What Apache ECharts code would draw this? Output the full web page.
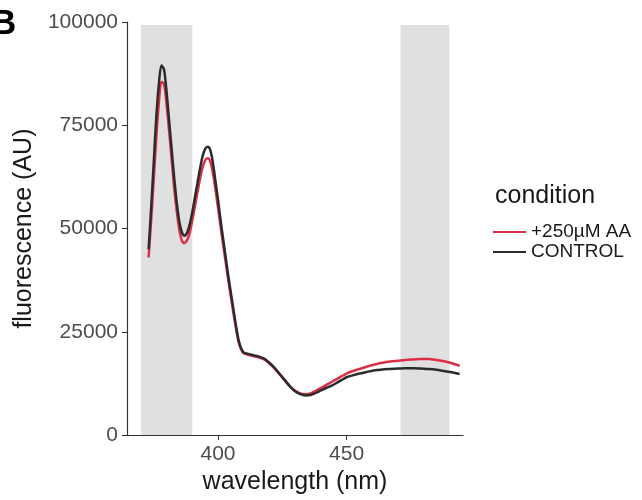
<!DOCTYPE html>
<html>
<head>
<meta charset="utf-8">
<script src="https://cdn.jsdelivr.net/npm/echarts@6/dist/echarts.min.js"></script>
<style>
  html, body { margin: 0; padding: 0; background: #fff; }
  #main { width: 642px; height: 500px; }
</style>
</head>
<body>
<div id="main"></div>
<script>
// wavelengths (nm) shared by both conditions
const wavelength = [
  373, 374, 375, 376, 377, 378, 379, 380, 381, 382,
  383, 384, 385, 386, 387, 388, 389, 390, 391, 392,
  393, 394, 395, 396, 397, 398, 399, 400, 401, 402,
  403, 404, 405, 406, 407, 408, 409, 410,
  412, 414, 416, 418, 420, 422, 424, 426, 428, 430,
  432, 434, 436, 438, 440, 442, 444, 446, 448, 450,
  452, 455, 458, 461, 464, 467, 470, 473, 476, 479, 482, 485, 488, 491, 494
];

// fluorescence (AU)
const aaValues = [
  43000, 52000, 62000, 72000, 80500, 85500, 85000, 80000, 73500, 66500,
  59500, 54000, 49500, 47000, 46500, 47200, 49000, 52000, 55300, 58700,
  62000, 64800, 66500, 67000, 66200, 63500, 59500, 55000, 50500, 46000,
  41800, 37500, 33500, 29500, 25800, 22500, 20700, 19800,
  19400, 19100, 18800, 18300, 17300, 16100, 14700, 13200, 11800, 10700,
  10100, 9900, 10100, 10700, 11400, 12100, 12800, 13500, 14200, 14900,
  15400, 16000, 16600, 17100, 17500, 17800, 18000, 18200, 18300, 18400, 18400, 18200, 17900, 17400, 16800
];

const controlValues = [
  45000, 55000, 66000, 77000, 85000, 89500, 88500, 83000, 76000, 69000,
  62000, 56000, 51500, 49000, 48300, 49000, 51000, 54000, 57500, 61000,
  64500, 67500, 69300, 69800, 69000, 66000, 61500, 57000, 52000, 47500,
  43000, 38500, 34500, 30500, 26500, 23000, 21000, 20000,
  19600, 19300, 19000, 18500, 17500, 16300, 14800, 13300, 11800, 10600,
  9900, 9600, 9700, 10200, 10800, 11400, 11900, 12600, 13300, 14000,
  14400, 14900, 15300, 15700, 15900, 16000, 16100, 16200, 16200, 16100, 16000, 15800, 15500, 15200, 14800
];

const conditions = ["+250\u00b5M AA", "CONTROL"];
const bands = [[370, 390], [471, 490]]; // shaded wavelength windows
const xTicks = [400, 450];

const font = "Liberation Sans";

function pairs(values) {
  return wavelength.map((w, i) => [w, values[i]]);
}

const options = {
  animation: false,
  backgroundColor: "#fff",
  textStyle: { fontFamily: font },
  grid: { left: 127, right: 179, top: 22, bottom: 63.5 },
  xAxis: {
    type: "value",
    min: 364.6,
    max: 495.3,
    name: "wavelength (nm)",
    nameLocation: "middle",
    nameGap: 33,
    nameTextStyle: { fontSize: 25, color: "#1a1a1a", fontFamily: font },
    axisLine: { lineStyle: { color: "#333", width: 1.2 } },
    axisTick: { customValues: xTicks, length: 5, lineStyle: { color: "#333" } },
    axisLabel: {
      customValues: xTicks,
      fontSize: 21,
      color: "#4d4d4d",
      margin: 9,
      fontFamily: font
    },
    splitLine: { show: false }
  },
  yAxis: {
    type: "value",
    min: 0,
    max: 100000,
    interval: 25000,
    name: "fluorescence (AU)",
    nameLocation: "middle",
    nameGap: 88,
    nameTextStyle: { fontSize: 25, color: "#1a1a1a", fontFamily: font },
    axisLine: { show: true, lineStyle: { color: "#333", width: 1.2 } },
    axisTick: { show: true, length: 5, lineStyle: { color: "#333" } },
    axisLabel: {
      fontSize: 21,
      color: "#4d4d4d",
      margin: 9,
      fontFamily: font,
      formatter: (v) => String(v)
    },
    splitLine: { show: false }
  },
  legend: {
    orient: "vertical",
    left: 493,
    top: 222,
    padding: 0,
    itemGap: 0,
    itemWidth: 33,
    itemHeight: 2,
    icon: "rect",
    data: conditions,
    textStyle: { fontSize: 19, color: "#1a1a1a", lineHeight: 20, fontFamily: font }
  },
  graphic: [
    {
      type: "text",
      left: -9,
      top: 7,
      style: { text: "B", font: "bold 35px " + font, fill: "#000" }
    },
    {
      type: "text",
      left: 495,
      top: 184,
      style: { text: "condition", font: "25px " + font, fill: "#1a1a1a" }
    }
  ],
  series: [
    {
      name: conditions[0],
      type: "line",
      data: pairs(aaValues),
      showSymbol: false,
      smooth: 0.3,
      lineStyle: { color: "#dc2f46", width: 2.5 },
      itemStyle: { color: "#dc2f46" },
      markArea: {
        silent: true,
        itemStyle: { color: "#e0e0e0" },
        data: bands.map((b) => [
          { xAxis: b[0], yAxis: 0 },
          { xAxis: b[1], yAxis: 99300 }
        ])
      }
    },
    {
      name: conditions[1],
      type: "line",
      data: pairs(controlValues),
      showSymbol: false,
      smooth: 0.3,
      lineStyle: { color: "#2b2b2b", width: 2.5 },
      itemStyle: { color: "#2b2b2b" }
    }
  ]
};

let myChart = echarts.init(document.getElementById("main"));
myChart.setOption(options);
</script>
</body>
</html>
